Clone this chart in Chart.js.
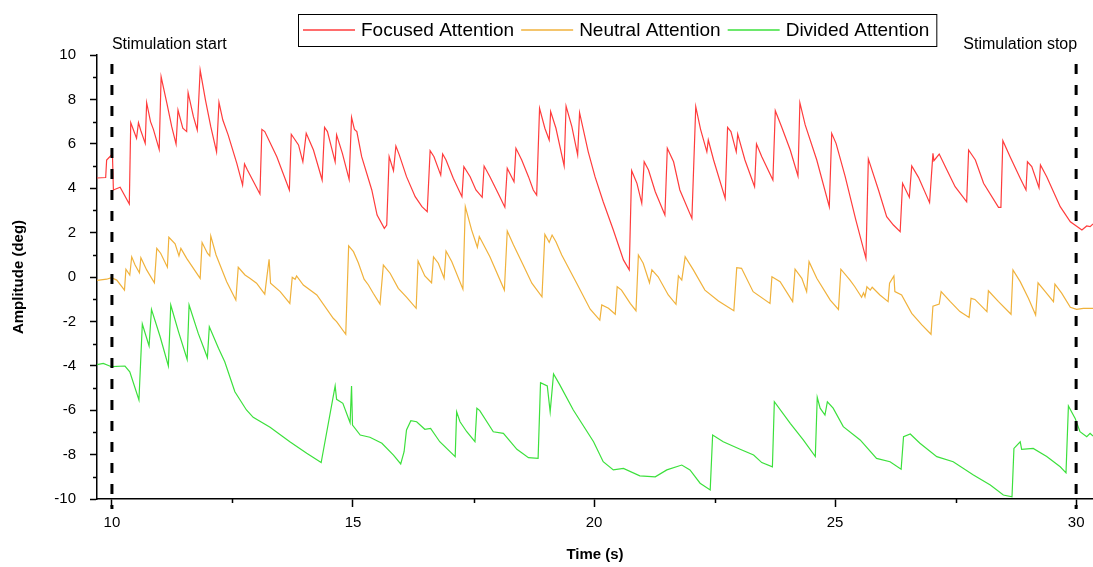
<!DOCTYPE html>
<html>
<head>
<meta charset="utf-8">
<title>Attention amplitude</title>
<script src="https://cdn.jsdelivr.net/npm/chart.js@4.4.1/dist/chart.umd.min.js"></script>
<style>
  html, body { margin: 0; padding: 0; background: #fff; }
  #wrap { width: 1093px; height: 567px; }
</style>
</head>
<body>
<div id="wrap"><canvas id="attn" width="1093" height="567"></canvas></div>
<script>
// time (s) and amplitude (deg) for each condition
const focusedT = [9.69,9.87,9.89,10.01,10.03,10.17,10.36,10.39,10.51,10.55,10.60,10.69,10.72,10.80,10.86,10.98,11.02,11.14,11.24,11.33,11.37,11.47,11.55,11.58,11.69,11.77,11.83,11.94,12.05,12.17,12.22,12.30,12.41,12.59,12.71,12.75,12.81,13.07,13.11,13.17,13.42,13.68,13.72,13.87,13.96,14.03,14.18,14.36,14.41,14.47,14.63,14.66,14.78,14.92,14.97,15.03,15.08,15.18,15.39,15.50,15.65,15.70,15.75,15.84,15.89,15.96,16.11,16.29,16.43,16.54,16.60,16.68,16.82,16.86,16.93,17.08,17.26,17.30,17.43,17.55,17.68,17.72,17.84,18.01,18.15,18.20,18.34,18.38,18.50,18.64,18.74,18.81,18.87,18.98,19.07,19.10,19.21,19.38,19.42,19.54,19.66,19.70,19.78,19.88,20.02,20.19,20.40,20.61,20.73,20.78,20.89,20.99,21.04,21.13,21.27,21.47,21.52,21.65,21.78,22.03,22.11,22.21,22.34,22.37,22.48,22.72,22.77,22.84,22.95,22.98,23.13,23.33,23.37,23.48,23.71,23.76,23.89,24.07,24.23,24.27,24.38,24.62,24.88,24.93,25.02,25.21,25.43,25.64,25.69,25.90,26.07,26.21,26.35,26.40,26.54,26.59,26.73,26.96,27.03,27.05,27.16,27.32,27.49,27.73,27.77,27.91,28.08,28.39,28.44,28.48,28.63,28.84,28.96,28.99,29.08,29.23,29.26,29.39,29.67,29.88,30.12,30.22,30.29,30.35];
const focusedY = [4.46,4.48,5.27,5.54,3.92,4.04,3.29,6.95,6.25,6.95,6.59,6.02,7.85,7.00,6.65,5.75,9.02,7.82,6.77,5.99,7.52,6.70,6.55,8.30,7.22,6.62,9.32,7.97,6.77,5.64,7.87,7.07,6.40,5.12,4.14,5.09,4.82,3.74,6.65,6.55,5.42,3.92,6.43,5.95,5.19,6.47,5.72,4.37,6.74,6.55,5.19,6.40,5.57,4.40,7.19,6.65,6.55,5.42,3.92,2.79,2.19,2.34,5.42,4.79,5.90,5.50,4.52,3.62,3.17,2.94,5.69,5.42,4.59,5.54,5.27,4.45,3.62,4.97,4.52,3.92,3.59,5.00,4.52,3.77,3.14,4.90,4.29,5.80,5.27,4.52,3.92,3.69,7.60,6.70,6.17,7.45,6.70,5.00,7.70,6.77,5.50,7.40,6.62,5.64,4.52,3.39,2.12,0.77,0.32,4.79,4.22,3.32,5.19,4.82,3.84,2.79,5.80,5.19,3.92,2.64,7.67,6.65,5.64,6.17,5.27,3.54,6.74,6.55,5.64,6.44,5.27,4.07,5.99,5.42,4.37,7.49,6.77,5.72,4.55,7.85,6.85,5.27,3.17,6.47,6.02,4.52,2.57,0.84,5.32,3.92,2.72,2.34,2.04,4.22,3.59,5.00,4.49,3.35,5.57,5.24,5.54,4.82,4.07,3.39,5.72,5.27,4.22,3.14,3.14,6.14,5.42,4.45,3.92,5.19,4.97,4.02,5.05,4.52,3.17,2.49,2.12,2.30,2.27,2.39];

const neutralT = [9.69,9.89,9.99,10.10,10.26,10.29,10.37,10.41,10.48,10.57,10.60,10.72,10.88,10.93,11.01,11.15,11.18,11.31,11.39,11.43,11.55,11.83,11.87,11.98,12.03,12.05,12.16,12.38,12.57,12.62,12.76,12.86,13.00,13.17,13.21,13.26,13.29,13.49,13.69,13.74,13.80,13.83,13.97,14.25,14.59,14.66,14.85,14.91,15.01,15.11,15.23,15.32,15.42,15.56,15.63,15.77,15.94,16.11,16.31,16.35,16.49,16.63,16.67,16.77,16.89,16.93,17.05,17.28,17.33,17.46,17.58,17.62,17.84,18.14,18.20,18.33,18.53,18.71,18.92,18.98,19.07,19.13,19.21,19.33,19.64,19.92,20.12,20.16,20.30,20.44,20.48,20.57,20.75,20.87,20.92,21.02,21.15,21.20,21.33,21.54,21.70,21.75,21.82,21.89,22.06,22.30,22.58,22.90,22.96,23.06,23.30,23.65,23.69,23.86,24.12,24.17,24.31,24.41,24.46,24.62,24.90,25.07,25.12,25.31,25.41,25.55,25.59,25.62,25.66,25.73,25.77,25.93,26.10,26.13,26.22,26.24,26.38,26.59,26.80,26.99,27.03,27.16,27.20,27.39,27.59,27.78,27.82,27.90,28.15,28.18,28.39,28.65,28.69,28.84,29.01,29.16,29.21,29.36,29.53,29.56,29.70,29.88,30.01,30.15,30.35];
const neutralY = [-0.15,-0.10,-0.03,-0.14,-0.59,0.35,0.09,0.91,0.54,0.19,0.87,0.32,-0.26,1.29,1.07,0.44,1.79,1.49,0.95,1.29,0.84,-0.06,1.55,1.07,0.95,1.85,0.99,-0.21,-1.04,0.44,0.09,-0.06,-0.28,-0.77,-0.06,0.80,-0.28,-0.66,-1.19,-0.01,-0.10,0.05,-0.36,-0.81,-1.86,-2.01,-2.58,1.40,1.14,0.64,-0.10,-0.36,-0.73,-1.22,0.54,0.17,-0.51,-0.91,-1.41,0.72,0.05,-0.26,0.91,0.62,-0.06,1.17,0.69,-0.55,3.17,2.12,1.34,1.82,0.91,-0.59,2.07,1.44,0.54,-0.28,-0.89,1.92,1.56,1.89,1.59,0.99,-0.28,-1.45,-1.94,-1.26,-1.41,-1.68,-0.44,-0.59,-1.19,-1.52,0.99,0.62,-0.26,0.32,0.01,-0.81,-1.23,0.05,-0.14,0.91,0.32,-0.59,-1.08,-1.52,0.42,0.39,-0.66,-1.19,0.01,-0.21,-1.11,0.35,-0.06,-0.66,0.69,-0.06,-1.04,-1.46,0.35,-0.14,-0.44,-0.91,-0.71,-0.89,-0.44,-0.59,-0.46,-0.81,-1.11,-0.28,0.05,-0.66,-0.81,-1.64,-2.16,-2.58,-1.31,-1.22,-0.66,-1.11,-1.56,-1.82,-0.96,-1.01,-1.56,-0.62,-1.11,-1.68,0.32,-0.21,-0.96,-1.71,-0.26,-0.66,-1.11,-0.32,-0.73,-1.36,-1.46,-1.41,-1.41];

const dividedT = [9.69,9.82,9.99,10.27,10.37,10.56,10.63,10.77,10.82,11.00,11.17,11.22,11.38,11.56,11.60,11.79,11.98,12.02,12.21,12.34,12.55,12.79,12.93,13.28,13.69,14.04,14.34,14.63,14.66,14.79,14.94,14.97,14.99,15.15,15.35,15.60,15.84,15.99,16.06,16.11,16.20,16.32,16.49,16.61,16.80,17.12,17.15,17.22,17.36,17.53,17.57,17.63,17.91,18.12,18.40,18.64,18.84,18.89,19.03,19.09,19.16,19.29,19.57,19.99,20.19,20.40,20.61,20.95,21.27,21.51,21.82,21.99,22.20,22.41,22.46,22.68,23.03,23.31,23.48,23.70,23.74,24.07,24.34,24.59,24.63,24.69,24.79,24.84,24.96,25.17,25.52,25.86,26.14,26.37,26.42,26.56,26.76,27.11,27.45,27.87,28.22,28.49,28.67,28.71,28.84,28.87,29.11,29.39,29.67,29.79,29.84,29.98,30.08,30.22,30.29,30.35];
const dividedY = [-3.95,-3.89,-4.04,-4.01,-4.27,-5.54,-2.12,-3.11,-1.46,-2.69,-4.01,-1.26,-2.46,-3.71,-1.26,-2.54,-3.63,-2.24,-3.21,-3.82,-5.17,-5.99,-6.32,-6.77,-7.42,-7.94,-8.36,-4.91,-5.51,-5.69,-6.56,-4.91,-6.67,-7.12,-7.22,-7.49,-8.02,-8.42,-7.87,-6.89,-6.47,-6.52,-6.86,-6.82,-7.42,-8.09,-6.07,-6.52,-6.97,-7.42,-5.91,-6.02,-6.97,-7.04,-7.76,-8.14,-8.17,-4.76,-4.91,-6.07,-4.37,-4.86,-5.99,-7.42,-8.32,-8.69,-8.62,-8.96,-9.00,-8.69,-8.47,-8.69,-9.29,-9.59,-7.12,-7.42,-7.76,-8.02,-8.36,-8.55,-5.62,-6.59,-7.34,-8.09,-5.42,-5.91,-6.22,-5.62,-5.91,-6.74,-7.34,-8.17,-8.32,-8.66,-7.19,-7.07,-7.49,-8.09,-8.32,-8.92,-9.37,-9.82,-9.90,-7.72,-7.42,-7.76,-7.72,-8.09,-8.55,-8.82,-5.81,-6.37,-6.97,-7.19,-7.04,-7.16];

const seriesNames = ['Focused Attention', 'Neutral Attention', 'Divided Attention'];
const seriesColors = ['#ff3c3c', '#f0b23c', '#3ce03c'];

const xTicks = [10, 15, 20, 25, 30];
const xMinorTicks = [12.5, 17.5, 22.5, 27.5];
const yTicks = [-10, -8, -6, -4, -2, 0, 2, 4, 6, 8, 10];
const yMinorTicks = [-9, -7, -5, -3, -1, 1, 3, 5, 7, 9];

const stimStart = 10;
const stimStop = 30;

const pts = (t, y) => t.map((v, i) => ({ x: v, y: y[i] }));

Chart.defaults.font.family = '"Liberation Sans", Arial, sans-serif';
Chart.defaults.color = '#000';

// small ticks between the labelled ones
const minorTicks = {
  id: 'minorTicks',
  afterDraw(chart) {
    const { ctx, chartArea, scales } = chart;
    ctx.save();
    ctx.strokeStyle = '#000';
    ctx.lineWidth = 1.5;
    ctx.beginPath();
    yMinorTicks.forEach(v => {
      const py = Math.round(scales.y.getPixelForValue(v)) + 0.5;
      ctx.moveTo(chartArea.left - 4, py);
      ctx.lineTo(chartArea.left, py);
    });
    xMinorTicks.forEach(v => {
      const px = Math.round(scales.x.getPixelForValue(v)) + 0.5;
      ctx.moveTo(px, chartArea.bottom);
      ctx.lineTo(px, chartArea.bottom + 4);
    });
    ctx.stroke();
    ctx.restore();
  }
};

// dashed markers for stimulation on/off
const stimMarkers = {
  id: 'stimMarkers',
  afterDatasetsDraw(chart) {
    const { ctx, chartArea, scales } = chart;
    ctx.save();
    ctx.strokeStyle = '#000';
    ctx.lineWidth = 3;
    ctx.setLineDash([10, 11]);
    [stimStart, stimStop].forEach(v => {
      const px = scales.x.getPixelForValue(v);
      ctx.beginPath();
      ctx.moveTo(px, chartArea.top + 9);
      ctx.lineTo(px, chartArea.bottom + 10);
      ctx.stroke();
    });
    ctx.setLineDash([]);
    ctx.fillStyle = '#000';
    ctx.font = '16px "Liberation Sans", Arial, sans-serif';
    ctx.textBaseline = 'alphabetic';
    ctx.textAlign = 'left';
    ctx.fillText('Stimulation start', scales.x.getPixelForValue(stimStart), 49);
    ctx.textAlign = 'right';
    ctx.fillText('Stimulation stop', scales.x.getPixelForValue(stimStop) + 1, 49);
    ctx.restore();
  }
};

// boxed legend across the top
const boxLegend = {
  id: 'boxLegend',
  afterDraw(chart) {
    const { ctx } = chart;
    const left = 298, top = 14, h = 32, mid = top + h / 2;
    ctx.save();
    ctx.font = '19px "Liberation Sans", Arial, sans-serif';
    ctx.textBaseline = 'middle';
    ctx.textAlign = 'left';
    let x = left + 5;
    chart.data.datasets.forEach(ds => {
      ctx.strokeStyle = ds.borderColor;
      ctx.lineWidth = 1.5;
      ctx.beginPath();
      ctx.moveTo(x, mid);
      ctx.lineTo(x + 52, mid);
      ctx.stroke();
      x += 58;
      ctx.fillStyle = '#000';
      ctx.fillText(ds.label, x, mid + 1);
      x += ctx.measureText(ds.label).width + 7;
    });
    ctx.strokeStyle = '#000';
    ctx.lineWidth = 1;
    ctx.strokeRect(left + 0.5, top + 0.5, x - left, h);
    ctx.restore();
  }
};

new Chart(document.getElementById('attn'), {
  type: 'line',
  data: {
    datasets: [
      { label: seriesNames[0], data: pts(focusedT, focusedY), borderColor: seriesColors[0] },
      { label: seriesNames[1], data: pts(neutralT, neutralY), borderColor: seriesColors[1] },
      { label: seriesNames[2], data: pts(dividedT, dividedY), borderColor: seriesColors[2] }
    ]
  },
  options: {
    responsive: false,
    animation: false,
    devicePixelRatio: 1,
    layout: { padding: { top: 55, right: 0, bottom: 0, left: 0 } },
    elements: {
      line: { borderWidth: 1.2, tension: 0, fill: false },
      point: { radius: 0, hoverRadius: 0 }
    },
    plugins: { legend: { display: false }, tooltip: { enabled: false } },
    scales: {
      x: {
        type: 'linear',
        min: 9.69,
        max: 30.35,
        afterBuildTicks: s => { s.ticks = xTicks.map(v => ({ value: v })); },
        afterFit: s => { s.height = 68; },
        grid: { drawOnChartArea: false, drawTicks: true, tickLength: 8, tickColor: '#000', tickWidth: 1.5 },
        border: { color: '#000', width: 1.5 },
        ticks: { font: { size: 15 }, padding: 7, maxRotation: 0, autoSkip: false },
        title: { display: true, text: 'Time (s)', font: { size: 15, weight: 'bold' }, padding: { top: 4, bottom: 3 } }
      },
      y: {
        min: -10,
        max: 10,
        afterBuildTicks: s => { s.ticks = yTicks.map(v => ({ value: v })); },
        afterFit: s => { s.width = 97; },
        grid: { drawOnChartArea: false, drawTicks: true, tickLength: 7, tickColor: '#000', tickWidth: 1.5 },
        border: { color: '#000', width: 1.5 },
        ticks: { font: { size: 15 }, padding: 14 },
        title: { display: true, text: 'Amplitude (deg)', font: { size: 15, weight: 'bold' }, padding: { top: 10, bottom: 4 } }
      }
    }
  },
  plugins: [minorTicks, stimMarkers, boxLegend]
});
</script>
</body>
</html>
